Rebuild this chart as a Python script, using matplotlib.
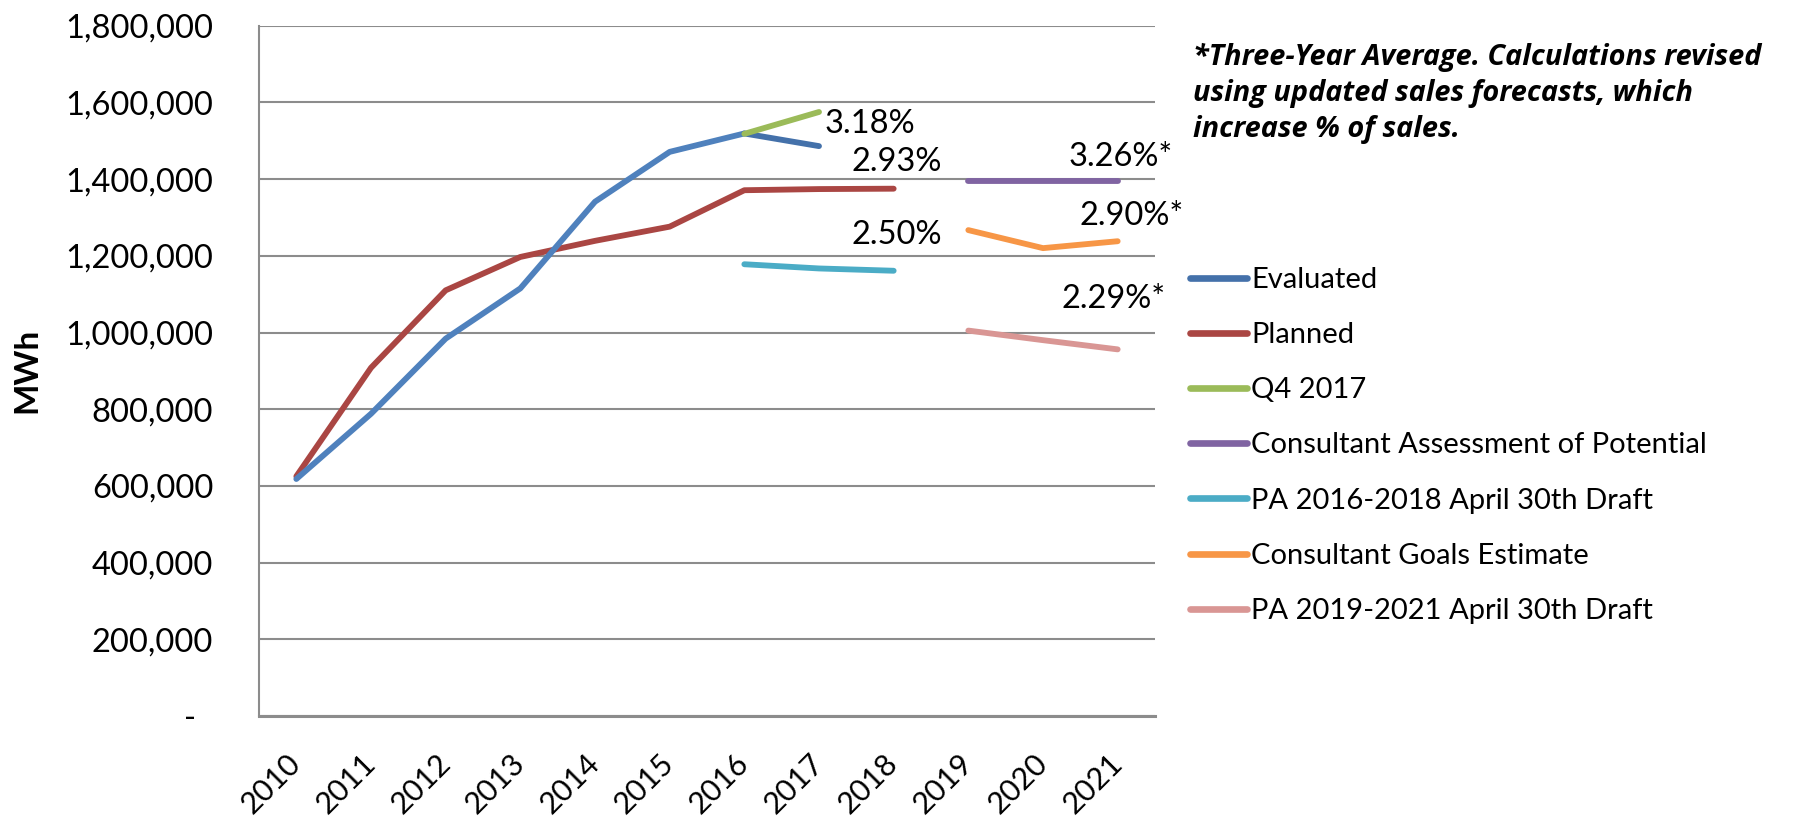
import numpy as np
import matplotlib
matplotlib.use("Agg")
import matplotlib.pyplot as plt
from matplotlib.ticker import FuncFormatter

plt.rcParams['font.family'] = ['Lato', 'DejaVu Sans']

# === Data (MWh) ===
years = ["2010", "2011", "2012", "2013", "2014", "2015",
         "2016", "2017", "2018", "2019", "2020", "2021"]
nan = np.nan
evaluated_hist = [618000, 788000, 984000, 1115000, 1341000, 1471000,
                  1519000, nan, nan, nan, nan, nan]
evaluated = [nan, nan, nan, nan, nan, nan, 1519000, 1486000, nan, nan, nan, nan]
planned = [625000, 908000, 1110000, 1197000, 1239000, 1276000,
           1371000, 1374000, 1375000, nan, nan, nan]
q4_2017 = [nan, nan, nan, nan, nan, nan, 1518000, 1575000, nan, nan, nan, nan]
consultant_potential = [nan] * 9 + [1396000, 1396000, 1396000]
pa_2016_2018 = [nan] * 6 + [1178000, 1167000, 1161000, nan, nan, nan]
consultant_goals = [nan] * 9 + [1267000, 1220000, 1238000]
pa_2019_2021 = [nan] * 9 + [1005000, 980000, 956000]

series = [
    ("Evaluated", evaluated, "#4471AA"),
    ("Planned", planned, "#AA4643"),
    ("Q4 2017", q4_2017, "#9BBB59"),
    ("Consultant Assessment of Potential", consultant_potential, "#8064A2"),
    ("PA 2016-2018 April 30th Draft", pa_2016_2018, "#4BACC6"),
    ("Consultant Goals Estimate", consultant_goals, "#F79646"),
    ("PA 2019-2021 April 30th Draft", pa_2019_2021, "#D99694"),
]

# percentage labels: (text, series values, index, ha, pixel offset)
pct_labels = [
    ("3.18%", q4_2017, 7, "left", (6, -12)),
    ("2.93%", planned, 8, "right", (48, 27)),
    ("2.50%", pa_2016_2018, 8, "right", (48, 36)),
    ("3.26%*", consultant_potential, 11, "right", (55, 24)),
    ("2.90%*", consultant_goals, 11, "right", (66, 25)),
    ("2.29%*", pa_2019_2021, 11, "right", (48, 50)),
]

fig = plt.figure(figsize=(17.96, 8.18), dpi=100)
ax = fig.add_axes([259/1796, 1 - 716/818, 896/1796, (716 - 25.7)/818])

x = np.arange(len(years))
lw = 4.2

ax.plot(x, planned, color="#AA4643", lw=lw, solid_capstyle="round",
        solid_joinstyle="round", zorder=3)
ax.plot(x, evaluated_hist, color="#4F81BD", lw=lw, solid_capstyle="round",
        solid_joinstyle="round", zorder=4)
handles = []
for name, vals, col in series:
    if name != "Planned":
        ax.plot(x, vals, color=col, lw=lw, solid_capstyle="round",
                solid_joinstyle="round", zorder=5)
    h, = ax.plot([], [], color=col, lw=4.8, solid_capstyle="round", label=name)
    handles.append(h)

for txt, vals, i, ha, off in pct_labels:
    ax.annotate(txt, (x[i], vals[i]), xytext=off, textcoords="offset pixels",
                ha=ha, va="center", fontsize=23.5, zorder=6)

ax.set_xlim(-0.5, len(years) - 0.5)
ax.set_ylim(0, 1800000)
ax.set_yticks(np.arange(0, 1800001, 200000))
ax.yaxis.set_major_formatter(FuncFormatter(lambda v, p: "-  " if v == 0 else f"{int(v):,}"))
ax.set_xticks(x)
ax.set_xticklabels(years, rotation=45, ha="right", va="center",
                   rotation_mode="anchor", fontsize=22)
ax.tick_params(axis="y", length=0, pad=33, labelsize=23.5)
ax.tick_params(axis="x", length=0, pad=31)

ax.grid(axis="y", color="#8C8C8C", lw=1.5, zorder=0)
ax.set_axisbelow(True)
for s in ["top", "right"]:
    ax.spines[s].set_visible(False)
ax.spines["left"].set_color("#8C8C8C")
ax.spines["left"].set_linewidth(1.5)
ax.spines["bottom"].set_color("#8C8C8C")
ax.spines["bottom"].set_linewidth(2.2)

fig.text(26.5/1796, 1 - 370/818, "MWh", rotation=90, fontsize=24,
         fontweight="bold", ha="center", va="center")

fig.legend(handles, [s[0] for s in series], loc="upper left",
           bbox_to_anchor=(1190/1796, 1 - 267/818),
           frameon=False, fontsize=21, handlelength=1.95, handletextpad=0.15,
           labelspacing=1.0, borderpad=0, borderaxespad=0)

fig.text(1193/1796, 1 - 42.5/818,
         "*Three-Year Average. Calculations revised\nusing updated sales forecasts, which\nincrease % of sales.",
         fontsize=20.8, fontweight="bold", fontstyle="italic", ha="left", va="top",
         linespacing=1.33, family=["Open Sans", "DejaVu Sans"])

fig.savefig("out.png", dpi=100)
